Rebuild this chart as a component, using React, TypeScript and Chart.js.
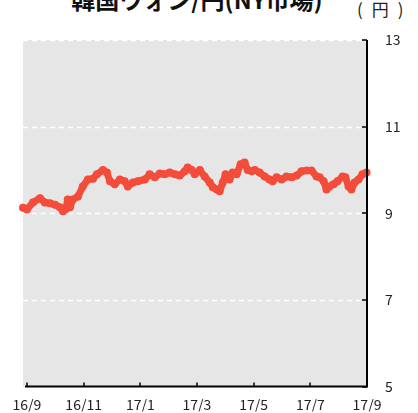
import React, { useEffect, useRef } from "react";
import { Chart, registerables } from "chart.js";

Chart.register(...registerables);

// months since 2016/9 (fractional)
const monthOffsets = [
  -0.14, 0, 0.21, 0.46, 0.63, 0.81, 0.99, 1.16, 1.27, 1.37, 1.44, 1.52, 1.62, 1.8, 1.97,
  2.15, 2.33, 2.47, 2.68, 2.82, 2.93, 3.1, 3.28, 3.45, 3.56, 3.74, 3.91, 4.16, 4.33, 4.51,
  4.69, 4.86, 5.04, 5.22, 5.39, 5.57, 5.67, 5.81, 5.92, 6.1, 6.27, 6.45, 6.56, 6.7, 6.8,
  6.91, 7.01, 7.15, 7.26, 7.4, 7.54, 7.68, 7.79, 7.93, 8.04, 8.21, 8.39, 8.56, 8.67, 8.81,
  8.99, 9.16, 9.34, 9.52, 9.69, 9.87, 10.04, 10.22, 10.33, 10.47, 10.57, 10.68, 10.82,
  10.96, 11.14, 11.24, 11.35, 11.45, 11.56, 11.7, 11.84, 11.98,
];
// yen per 100 won
const rates = [
  9.13, 9.09, 9.25, 9.35, 9.25, 9.23, 9.2, 9.14, 9.05, 9.1, 9.32, 9.14, 9.32, 9.39, 9.62,
  9.78, 9.8, 9.9, 10.0, 9.94, 9.74, 9.67, 9.78, 9.74, 9.62, 9.71, 9.74, 9.78, 9.9, 9.83,
  9.92, 9.9, 9.94, 9.9, 9.87, 9.97, 10.06, 10.0, 9.9, 10.0, 9.85, 9.71, 9.6, 9.55, 9.51,
  9.71, 9.9, 9.78, 9.94, 9.9, 10.13, 10.17, 10.0, 9.97, 10.0, 9.94, 9.85, 9.78, 9.74, 9.83,
  9.78, 9.85, 9.83, 9.87, 9.97, 9.99, 9.99, 9.85, 9.83, 9.74, 9.55, 9.62, 9.67, 9.74, 9.85,
  9.83, 9.62, 9.55, 9.71, 9.78, 9.9, 9.94,
];

const xTickValues = [0, 2, 4, 6, 8, 10, 12];
const xTickLabels = ["16/9", "16/11", "17/1", "17/3", "17/5", "17/7", "17/9"];
const yTickValues = [5, 7, 9, 11, 13];

const TITLE = "韓国ウォン/円(NY市場)";
const UNIT = "(円)";

const framePlugin = {
  id: "frame",
  beforeDatasetsDraw(chart: any) {
    const { ctx, chartArea: a, scales } = chart;
    ctx.save();
    ctx.fillStyle = "#e6e6e6";
    ctx.fillRect(a.left, a.top, a.right - a.left, a.bottom - a.top);
    ctx.strokeStyle = "#ffffff";
    ctx.lineWidth = 1.5;
    ctx.setLineDash([5, 4]);
    for (const v of yTickValues) {
      if (v === 5) continue;
      const y = Math.round(scales.y.getPixelForValue(v)) + 0.5;
      ctx.beginPath();
      ctx.moveTo(a.left, y);
      ctx.lineTo(a.right, y);
      ctx.stroke();
    }
    ctx.restore();
  },
  afterDatasetsDraw(chart: any) {
    const { ctx, chartArea: a, scales } = chart;
    ctx.save();
    ctx.strokeStyle = "#000000";
    ctx.lineWidth = 2;
    ctx.beginPath();
    ctx.moveTo(a.left + 2, a.bottom);
    ctx.lineTo(a.right, a.bottom);
    ctx.lineTo(a.right, a.top);
    ctx.stroke();
    ctx.lineWidth = 1.5;
    for (const v of xTickValues) {
      const x = Math.round(scales.x.getPixelForValue(v));
      ctx.beginPath();
      ctx.moveTo(x, a.bottom);
      ctx.lineTo(x, a.bottom - 4);
      ctx.stroke();
    }
    for (const v of yTickValues) {
      const y = Math.round(scales.y.getPixelForValue(v));
      ctx.beginPath();
      ctx.moveTo(a.right, y);
      ctx.lineTo(a.right - 5, y);
      ctx.stroke();
    }
    ctx.restore();
  },
};

export default function App() {
  const canvasRef = useRef<HTMLCanvasElement | null>(null);

  useEffect(() => {
    document.body.style.margin = "0";
    const canvas = canvasRef.current;
    if (!canvas) return;
    const data = monthOffsets.map((m, i) => ({ x: m, y: rates[i] }));
    const chart = new Chart(canvas, {
      type: "line",
      data: {
        datasets: [
          {
            data,
            borderColor: "#f44c3a",
            backgroundColor: "#f44c3a",
            borderWidth: 7,
            pointRadius: 4,
            pointBorderWidth: 0,
            pointBackgroundColor: "#f44c3a",
            borderJoinStyle: "round",
            borderCapStyle: "round",
            tension: 0,
            clip: false,
          } as any,
        ],
      },
      options: {
        animation: false,
        responsive: true,
        maintainAspectRatio: false,
        layout: { padding: { left: 23, top: 40, right: 0, bottom: 0 } },
        plugins: { legend: { display: false }, tooltip: { enabled: false }, title: { display: false } },
        scales: {
          x: {
            type: "linear",
            min: -0.14,
            max: 12,
            grid: { display: false, drawTicks: false },
            border: { display: false },
            afterBuildTicks: (scale: any) => {
              scale.ticks = xTickValues.map((v) => ({ value: v }));
            },
            afterFit: (scale: any) => {
              scale.height = 25;
            },
            ticks: {
              autoSkip: false,
              maxRotation: 0,
              padding: 10,
              color: "#222",
              font: { family: "'Noto Sans CJK JP', 'DejaVu Sans', sans-serif", size: 14 },
              callback: (v: any) => {
                const i = xTickValues.indexOf(Number(v));
                return i >= 0 ? xTickLabels[i] : "";
              },
            },
          },
          y: {
            type: "linear",
            position: "right",
            min: 5,
            max: 13,
            grid: { display: false, drawTicks: false },
            border: { display: false },
            afterBuildTicks: (scale: any) => {
              scale.ticks = yTickValues.map((v) => ({ value: v }));
            },
            afterFit: (scale: any) => {
              scale.width = 51;
            },
            ticks: {
              padding: 18,
              color: "#222",
              font: { family: "'Noto Sans CJK JP', 'DejaVu Sans', sans-serif", size: 14 },
            },
          },
        },
      },
      plugins: [framePlugin],
    });
    return () => chart.destroy();
  }, []);

  return (
    <div style={{ position: "fixed", left: 0, top: 0, width: 418, height: 413, background: "#fff", overflow: "hidden" }}>
      <div
        style={{
          position: "absolute",
          left: 0,
          width: 394,
          top: -13,
          textAlign: "center",
          fontFamily: "'Noto Sans CJK JP', sans-serif",
          fontWeight: "bold",
          fontSize: 24,
          lineHeight: "24px",
          color: "#111",
          whiteSpace: "nowrap",
        }}
      >
        {TITLE}
      </div>
      <div
        style={{
          position: "absolute",
          left: 357,
          top: 0,
          fontFamily: "'Noto Sans CJK JP', sans-serif",
          fontSize: 17,
          lineHeight: "18px",
          letterSpacing: "9px",
          color: "#222",
          whiteSpace: "nowrap",
        }}
      >
        {UNIT}
      </div>
      <canvas ref={canvasRef} width={418} height={413} style={{ position: "absolute", left: 0, top: 0, width: 418, height: 413 }} />
    </div>
  );
}
